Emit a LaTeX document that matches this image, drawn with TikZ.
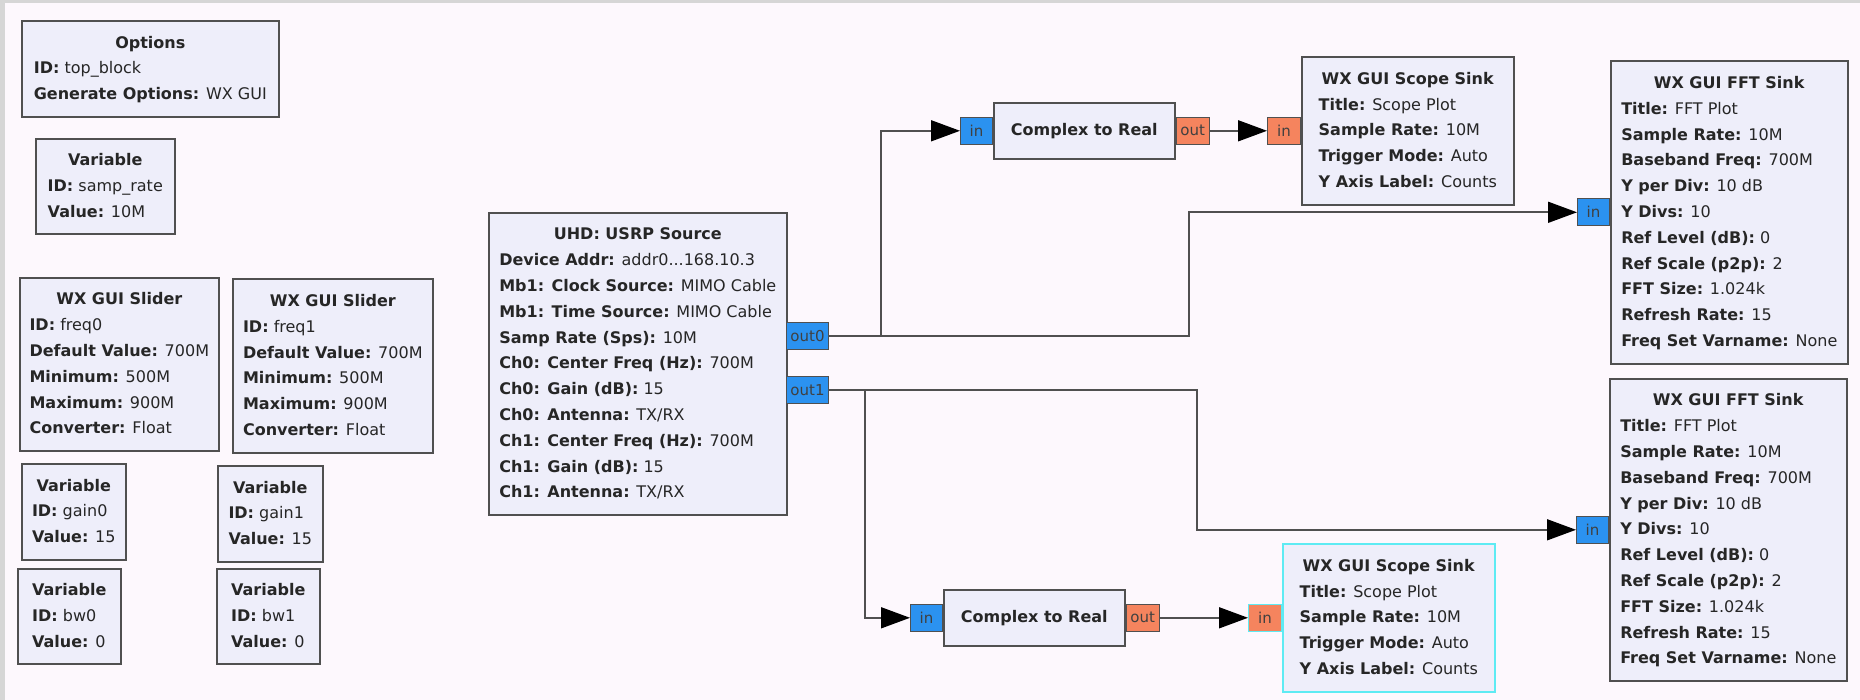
\documentclass[tikz,border=0pt]{standalone}
\usepackage{fontspec}
\setmainfont{DejaVu Sans}
\usetikzlibrary{arrows.meta,positioning}

\definecolor{bgcol}{HTML}{FDF8FD}
\definecolor{stripcol}{HTML}{D6D6D6}
\definecolor{blockfill}{HTML}{EEEEFA}
\definecolor{blockline}{HTML}{505050}
\definecolor{cplxport}{HTML}{2B92F0}
\definecolor{fltport}{HTML}{F5845E}
\definecolor{selcol}{HTML}{5EEBF3}

\begin{document}
\begin{tikzpicture}[
    x=1pt, y=-1pt,
    block/.style={draw=blockline, fill=blockfill, line width=1.6pt, anchor=north west,
      inner sep=0pt, text=black!85, font=\fontsize{16}{25.8}\selectfont},
    cport/.style={draw=blockline, fill=cplxport, line width=1pt, minimum width=32,
      minimum height=27, inner sep=0pt, text=black!75, font=\fontsize{15}{15}\selectfont},
    fport/.style={cport, fill=fltport},
    wire/.style={draw=blockline, line width=1.6pt},
    flow/.style={wire, -{Triangle[length=29pt,width=21pt,black]}},
]
  % canvas
  \useasboundingbox (0,0) rectangle (1860,700);
  \fill[bgcol] (0,0) rectangle (1860,700);
  \fill[stripcol] (0,0) rectangle (1860,3);
  \fill[stripcol] (0,0) rectangle (5,700);

  % options and variables
  \node[block, minimum width=257, minimum height=96] (opts) at (21,20) {\begin{tabular}{@{}l@{}}
    \multicolumn{1}{@{}c@{}}{\textbf{Options}}\\
    \textbf{ID:} top\_block\\
    \textbf{Generate Options:} WX GUI
  \end{tabular}};
  \node[block, minimum width=139, minimum height=95] (samprate) at (35,138) {\begin{tabular}{@{}l@{}}
    \multicolumn{1}{@{}c@{}}{\textbf{Variable}}\\
    \textbf{ID:} samp\_rate\\
    \textbf{Value:} 10M
  \end{tabular}};

  \node[block, minimum width=199, minimum height=173] (freq0) at (19,277) {\begin{tabular}{@{}l@{}}
    \multicolumn{1}{@{}c@{}}{\textbf{WX GUI Slider}}\\
    \textbf{ID:} freq0\\
    \textbf{Default Value:} 700M\\
    \textbf{Minimum:} 500M\\
    \textbf{Maximum:} 900M\\
    \textbf{Converter:} Float
  \end{tabular}};
  \node[block, minimum width=200, minimum height=174] (freq1) at (232,278) {\begin{tabular}{@{}l@{}}
    \multicolumn{1}{@{}c@{}}{\textbf{WX GUI Slider}}\\
    \textbf{ID:} freq1\\
    \textbf{Default Value:} 700M\\
    \textbf{Minimum:} 500M\\
    \textbf{Maximum:} 900M\\
    \textbf{Converter:} Float
  \end{tabular}};

  \node[block, minimum width=104, minimum height=96] (gain0) at (21,463) {\begin{tabular}{@{}l@{}}
    \multicolumn{1}{@{}c@{}}{\textbf{Variable}}\\
    \textbf{ID:} gain0\\
    \textbf{Value:} 15
  \end{tabular}};
  \node[block, minimum width=105, minimum height=96] (gain1) at (217,465) {\begin{tabular}{@{}l@{}}
    \multicolumn{1}{@{}c@{}}{\textbf{Variable}}\\
    \textbf{ID:} gain1\\
    \textbf{Value:} 15
  \end{tabular}};
  \node[block, minimum width=103, minimum height=95] (bw0) at (17,568) {\begin{tabular}{@{}l@{}}
    \multicolumn{1}{@{}c@{}}{\textbf{Variable}}\\
    \textbf{ID:} bw0\\
    \textbf{Value:} 0
  \end{tabular}};
  \node[block, minimum width=103, minimum height=95] (bw1) at (216,568) {\begin{tabular}{@{}l@{}}
    \multicolumn{1}{@{}c@{}}{\textbf{Variable}}\\
    \textbf{ID:} bw1\\
    \textbf{Value:} 0
  \end{tabular}};

  % source
  \node[block, minimum width=298, minimum height=302] (usrp) at (488,212) {\begin{tabular}{@{}l@{}}
    \multicolumn{1}{@{}c@{}}{\textbf{UHD: USRP Source}}\\
    \textbf{Device Addr:} addr0...168.10.3\\
    \textbf{Mb1: Clock Source:} MIMO Cable\\
    \textbf{Mb1: Time Source:} MIMO Cable\\
    \textbf{Samp Rate (Sps):} 10M\\
    \textbf{Ch0: Center Freq (Hz):} 700M\\
    \textbf{Ch0: Gain (dB):} 15\\
    \textbf{Ch0: Antenna:} TX/RX\\
    \textbf{Ch1: Center Freq (Hz):} 700M\\
    \textbf{Ch1: Gain (dB):} 15\\
    \textbf{Ch1: Antenna:} TX/RX
  \end{tabular}};
  \node[cport, minimum width=42, anchor=west] (out0) at (786,336) {out0};
  \node[cport, minimum width=42, anchor=west] (out1) at (786,390) {out1};

  % converters
  \node[block, minimum width=181, minimum height=56] (c2ra) at (993,102) {\textbf{Complex to Real}};
  \node[cport, left=0pt of c2ra] (c2ra-in) {in};
  \node[fport, minimum width=33, right=0pt of c2ra] (c2ra-out) {out};

  \node[block, minimum width=181, minimum height=56] (c2rb) at (943,589) {\textbf{Complex to Real}};
  \node[cport, left=0pt of c2rb] (c2rb-in) {in};
  \node[fport, minimum width=33, right=0pt of c2rb] (c2rb-out) {out};

  % sinks
  \node[block, minimum width=212, minimum height=148] (scopea) at (1301,56) {\begin{tabular}{@{}l@{}}
    \multicolumn{1}{@{}c@{}}{\textbf{WX GUI Scope Sink}}\\
    \textbf{Title:} Scope Plot\\
    \textbf{Sample Rate:} 10M\\
    \textbf{Trigger Mode:} Auto\\
    \textbf{Y Axis Label:} Counts
  \end{tabular}};
  \node[fport, minimum width=33, left=0pt of scopea] (scopea-in) {in};

  \node[block, draw=selcol, minimum width=212, minimum height=148] (scopeb) at (1282,543) {\begin{tabular}{@{}l@{}}
    \multicolumn{1}{@{}c@{}}{\textbf{WX GUI Scope Sink}}\\
    \textbf{Title:} Scope Plot\\
    \textbf{Sample Rate:} 10M\\
    \textbf{Trigger Mode:} Auto\\
    \textbf{Y Axis Label:} Counts
  \end{tabular}};
  \node[fport, draw=selcol, minimum width=33, left=0pt of scopeb] (scopeb-in) {in};

  \node[block, minimum width=237, minimum height=303] (ffta) at (1610,60) {\begin{tabular}{@{}l@{}}
    \multicolumn{1}{@{}c@{}}{\textbf{WX GUI FFT Sink}}\\
    \textbf{Title:} FFT Plot\\
    \textbf{Sample Rate:} 10M\\
    \textbf{Baseband Freq:} 700M\\
    \textbf{Y per Div:} 10 dB\\
    \textbf{Y Divs:} 10\\
    \textbf{Ref Level (dB):} 0\\
    \textbf{Ref Scale (p2p):} 2\\
    \textbf{FFT Size:} 1.024k\\
    \textbf{Refresh Rate:} 15\\
    \textbf{Freq Set Varname:} None
  \end{tabular}};
  \node[cport, left=0pt of ffta] (ffta-in) {in};

  \node[block, minimum width=237, minimum height=302] (fftb) at (1609,378) {\begin{tabular}{@{}l@{}}
    \multicolumn{1}{@{}c@{}}{\textbf{WX GUI FFT Sink}}\\
    \textbf{Title:} FFT Plot\\
    \textbf{Sample Rate:} 10M\\
    \textbf{Baseband Freq:} 700M\\
    \textbf{Y per Div:} 10 dB\\
    \textbf{Y Divs:} 10\\
    \textbf{Ref Level (dB):} 0\\
    \textbf{Ref Scale (p2p):} 2\\
    \textbf{FFT Size:} 1.024k\\
    \textbf{Refresh Rate:} 15\\
    \textbf{Freq Set Varname:} None
  \end{tabular}};
  \node[cport, left=0pt of fftb] (fftb-in) {in};

  % connections
  \draw[flow] (out0.east) -- ++(52,0) |- (c2ra-in.west);
  \draw[flow] (out0.east) -- ++(360,0) |- (ffta-in.west);
  \draw[flow] (c2ra-out.east) -- (scopea-in.west);
  \draw[flow] (out1.east) -- ++(36,0) |- (c2rb-in.west);
  \draw[flow] (out1.east) -- ++(368,0) |- (fftb-in.west);
  \draw[flow] (c2rb-out.east) -- (scopeb-in.west);

\end{tikzpicture}
\end{document}
